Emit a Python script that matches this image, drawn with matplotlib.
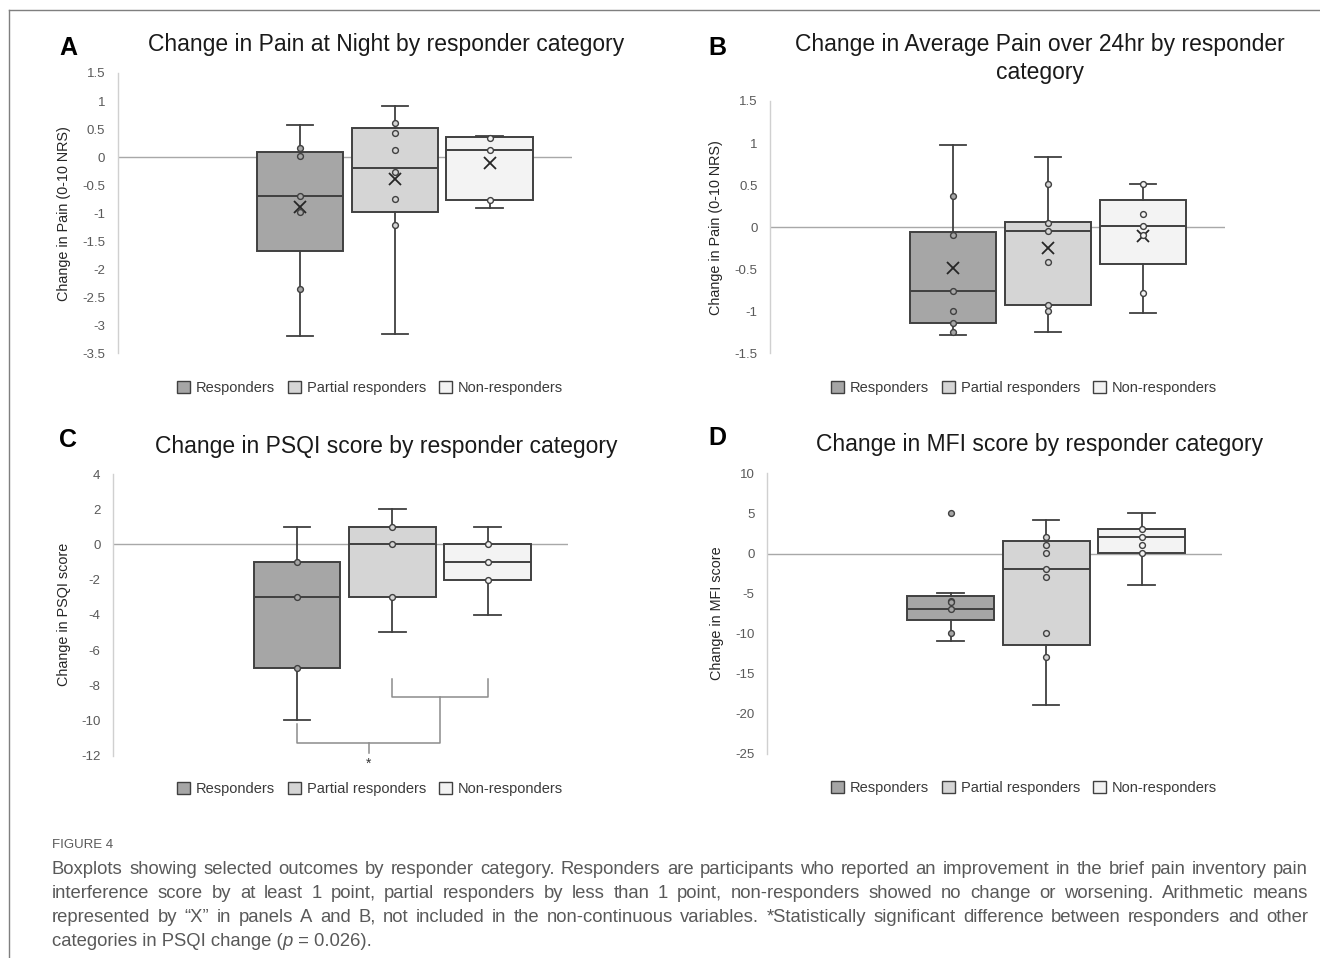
import matplotlib
matplotlib.use("Agg")
import matplotlib.pyplot as plt
from matplotlib.patches import Patch
from matplotlib.lines import Line2D

W, H, DPI = 1320, 958, 100
plt.rcParams['font.family'] = ['Liberation Sans', 'DejaVu Sans']

# ---------------- data ----------------
categories = ["Responders", "Partial responders", "Non-responders"]
fills = ["#a6a6a6", "#d5d5d5", "#f3f3f3"]

# Panel A: Change in Pain at Night
A_title = ["Change in Pain at Night by responder category"]
A_ylabel = "Change in Pain (0-10 NRS)"
A_whislo = [-3.19, -3.16, -0.90]
A_q1 = [-1.67, -0.98, -0.77]
A_med = [-0.70, -0.19, 0.13]
A_q3 = [0.09, 0.52, 0.35]
A_whishi = [0.58, 0.92, 0.37]
A_mean = [-0.89, -0.39, -0.10]
A_pts_resp = [0.16, 0.02, -0.70, -0.98, -2.35]
A_pts_part = [0.61, 0.43, 0.13, -0.27, -0.74, -1.21]
A_pts_non = [0.34, 0.13, -0.77]
A_yticks = [1.5, 1, 0.5, 0, -0.5, -1, -1.5, -2, -2.5, -3, -3.5]

# Panel B: Change in Average Pain over 24hr
B_title = ["Change in Average Pain over 24hr by responder", "category"]
B_ylabel = "Change in Pain (0-10 NRS)"
B_whislo = [-1.28, -1.25, -1.02]
B_q1 = [-1.145, -0.93, -0.44]
B_med = [-0.765, -0.045, 0.01]
B_q3 = [-0.06, 0.067, 0.32]
B_whishi = [0.98, 0.83, 0.51]
B_mean = [-0.48, -0.25, -0.10]
B_pts_resp = [0.37, -0.09, -0.76, -1.00, -1.14, -1.25]
B_pts_part = [0.51, 0.055, -0.05, -0.42, -0.93, -1.00]
B_pts_non = [0.51, 0.155, 0.01, -0.095, -0.78]
B_yticks = [1.5, 1, 0.5, 0, -0.5, -1, -1.5]

# Panel C: Change in PSQI score
C_title = ["Change in PSQI score by responder category"]
C_ylabel = "Change in PSQI score"
C_whislo = [-10, -5, -4]
C_q1 = [-7, -3, -2]
C_med = [-3, 0, -1]
C_q3 = [-1, 1, 0]
C_whishi = [1, 2, 1]
C_pts_resp = [-1, -3, -7]
C_pts_part = [1, 0, -3]
C_pts_non = [0, -1, -2]
C_yticks = [4, 2, 0, -2, -4, -6, -8, -10, -12]

# Panel D: Change in MFI score
D_title = ["Change in MFI score by responder category"]
D_ylabel = "Change in MFI score"
D_whislo = [-10.85, -18.9, -3.9]
D_q1 = [-8.35, -11.35, 0.12]
D_med = [-6.9, -1.9, 2.08]
D_q3 = [-5.35, 1.6, 3.1]
D_whishi = [-4.9, 4.15, 5.05]
D_pts_resp = [5.0, -5.9, -6.05, -6.9, -9.9]
D_pts_part = [2.05, 1.1, 0.05, -1.9, -2.9, -9.9, -12.9]
D_pts_non = [3.1, 2.05, 1.1, 0.05]
D_yticks = [10, 5, 0, -5, -10, -15, -20, -25]

caption_head = "FIGURE 4"
caption_lines = [
    "Boxplots showing selected outcomes by responder category. Responders are participants who reported an improvement in the brief pain inventory pain",
    "interference score by at least 1 point, partial responders by less than 1 point, non-responders showed no change or worsening. Arithmetic means",
    "represented by \u201cX\u201d in panels A and B, not included in the non-continuous variables. *Statistically significant difference between responders and other",
]
caption_last = ["categories in PSQI change (", "p", " = 0.026)."]

fig = plt.figure(figsize=(W / DPI, H / DPI), dpi=DPI)
fig.patch.set_facecolor("white")

EDGE = "#404040"


def fx(px):
    return px / W


def fy(py):
    return 1 - py / H


def fmt(v):
    return f"{v:g}"


def panel(letter, lx, ly, title, title_cx, title_ys, ylabel, ylabel_x,
          left, right, top, bottom, first, spacing, leg_y,
          whislo, q1, med, q3, whishi, means, pts, yticks, show_mean):
    ax = fig.add_axes([fx(left), fy(bottom), (right - left) / W, (bottom - top) / H])
    ax.set_facecolor("none")
    ax.axhline(0, color="#a8a8a8", lw=1.0, zorder=1)

    stats = []
    for i in range(3):
        d = dict(med=med[i], q1=q1[i], q3=q3[i], whislo=whislo[i], whishi=whishi[i], fliers=[])
        if means is not None:
            d["mean"] = means[i]
        stats.append(d)
    lp = dict(color=EDGE, linewidth=1.3)
    bp = ax.bxp(stats, positions=[1, 2, 3], widths=0.91, capwidths=0.28,
                patch_artist=True, showmeans=show_mean, manage_ticks=False,
                boxprops=dict(edgecolor=EDGE, linewidth=1.4),
                whiskerprops=lp, capprops=lp,
                medianprops=dict(color=EDGE, linewidth=1.4),
                meanprops=dict(marker="x", markersize=8, markeredgecolor="#262626",
                               markeredgewidth=1.3, linestyle="none"),
                zorder=2)
    for b, c in zip(bp["boxes"], fills):
        b.set_facecolor(c)
    for i, p in enumerate(pts):
        ax.plot([i + 1] * len(p), p, linestyle="none", marker="o", markersize=4.2,
                markerfacecolor=fills[i], markeredgecolor=EDGE, markeredgewidth=1.0, zorder=4)

    lo = 1 - (first - left) / spacing
    hi = lo + (right - left) / spacing
    ax.set_xlim(lo, hi)
    ax.set_ylim(min(yticks), max(yticks))
    for s in ["top", "right", "bottom"]:
        ax.spines[s].set_visible(False)
    ax.spines["left"].set_color("#d0d0d0")
    ax.spines["left"].set_linewidth(1.0)
    ax.set_xticks([])
    ax.set_yticks(yticks)
    ax.set_yticklabels([fmt(t) for t in yticks])
    ax.tick_params(axis="y", length=0, pad=9, labelsize=9.5, labelcolor="#595959")

    fig.text(fx(lx), fy(ly), letter, ha="center", va="center", fontsize=18,
             fontweight="bold", color="black")
    for t, yy in zip(title, title_ys):
        fig.text(fx(title_cx), fy(yy), t, ha="center", va="center", fontsize=16.5, color="#1a1a1a")
    fig.text(fx(ylabel_x), fy((top + bottom) / 2), ylabel, rotation=90, ha="center",
             va="center", fontsize=10.4, color="#262626")
    handles = [Patch(facecolor=c, edgecolor=EDGE, linewidth=1.0) for c in fills]
    fig.legend(handles, categories, loc="center", ncol=3, frameon=False,
               bbox_to_anchor=(fx(title_cx - 16), fy(leg_y)),
               fontsize=10.5, labelcolor="#3a3a3a", handlelength=0.9, handleheight=0.9,
               handletextpad=0.4, columnspacing=0.9, borderaxespad=0)
    return ax


panel("A", 68, 48, A_title, 386, [44], A_ylabel, 64,
      117.5, 572, 73, 353.3, 300, 94.8, 388,
      A_whislo, A_q1, A_med, A_q3, A_whishi, A_mean,
      [A_pts_resp, A_pts_part, A_pts_non], A_yticks, True)

panel("B", 717, 48, B_title, 1040, [44, 72], B_ylabel, 716,
      770, 1225, 101, 353.3, 953, 95, 388,
      B_whislo, B_q1, B_med, B_q3, B_whishi, B_mean,
      [B_pts_resp, B_pts_part, B_pts_non], B_yticks, True)

axC = panel("C", 68, 440, C_title, 386, [446], C_ylabel, 64,
            113, 568, 474, 755.7, 297, 95.4, 789,
            C_whislo, C_q1, C_med, C_q3, C_whishi, None,
            [C_pts_resp, C_pts_part, C_pts_non], C_yticks, False)

panel("D", 717, 438, D_title, 1040, [444], D_ylabel, 717,
      767, 1222, 473.3, 754, 950.6, 95.5, 788,
      D_whislo, D_q1, D_med, D_q3, D_whishi, None,
      [D_pts_resp, D_pts_part, D_pts_non], D_yticks, False)

# significance bracket in panel C
br = dict(color="#8c8c8c", lw=1.1, clip_on=False, zorder=3)
lower_y, lower_tick, upper_y, upper_tick, mid_tick = -11.27, -10.2, -8.67, -7.65, -11.85
axC.plot([2, 2, 3, 3], [upper_tick, upper_y, upper_y, upper_tick], **br)
axC.plot([1, 1, 2.5, 2.5], [lower_tick, lower_y, lower_y, upper_y], **br)
axC.plot([1.75, 1.75], [lower_y, mid_tick], **br)
axC.text(1.75, -12.45, "*", ha="center", va="center", fontsize=10, color="#333333", clip_on=False)

# frame lines
fig.add_artist(Line2D([fx(9), 1], [fy(10), fy(10)], color="#7f7f7f", lw=1.0))
fig.add_artist(Line2D([fx(9), fx(9)], [0, fy(10)], color="#7f7f7f", lw=1.0))

# caption
CAP_COLOR = "#595959"
fig.text(fx(52), fy(845), caption_head, ha="left", va="center", fontsize=9.5, color=CAP_COLOR)
renderer = fig.canvas.get_renderer()
x0, x1 = 52, 1308
cap_fs = 13.3
line_ys = [869, 893, 917, 941]
for line, yy in zip(caption_lines, line_ys):
    words = line.split(" ")
    ts = [fig.text(0, fy(yy), w, ha="left", va="center", fontsize=cap_fs, color=CAP_COLOR) for w in words]
    ws = [t.get_window_extent(renderer).width for t in ts]
    gap = (x1 - x0 - sum(ws)) / (len(words) - 1)
    x = x0
    for t, w in zip(ts, ws):
        t.set_x(fx(x))
        x += w + gap
x = x0
for k, piece in enumerate(caption_last):
    t = fig.text(fx(x), fy(line_ys[3]), piece, ha="left", va="center", fontsize=cap_fs,
                 color=CAP_COLOR, style="italic" if k == 1 else "normal")
    x += t.get_window_extent(renderer).width

fig.savefig("out.png", dpi=DPI, facecolor="white")
